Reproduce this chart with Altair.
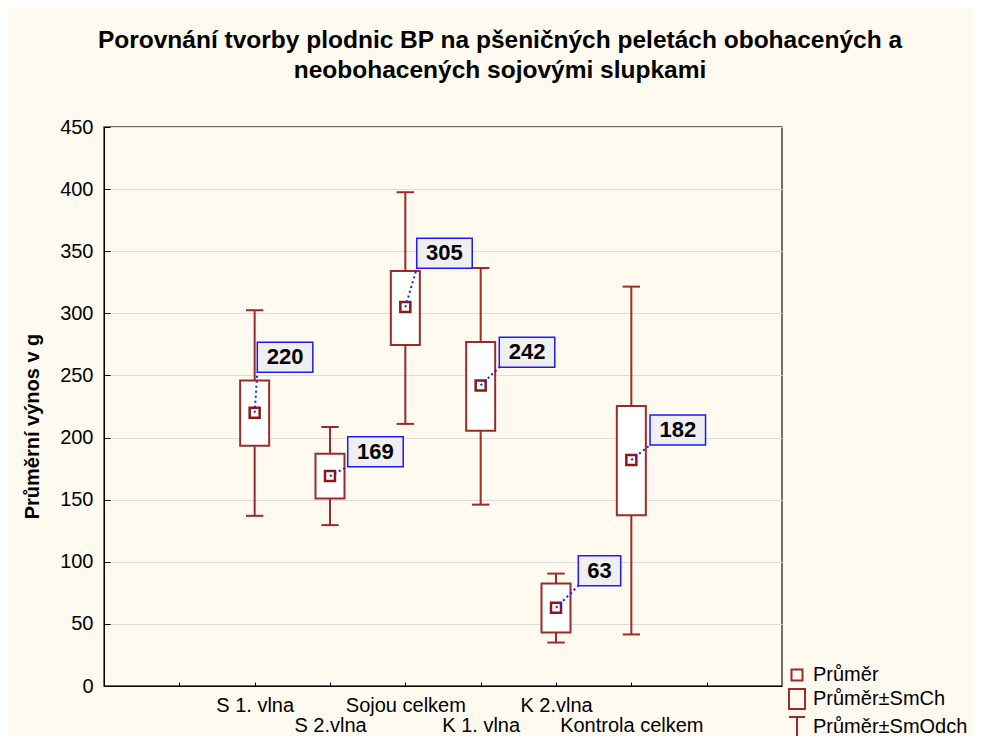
import json
import altair as alt
import pandas as pd

# ---- data ----
categories = ["S 1. vlna", "S 2.vlna", "Sojou celkem", "K 1. vlna", "K 2.vlna", "Kontrola celkem"]
means = [220, 169, 305, 242, 63, 182]
se_lo = [193.5, 151, 274.5, 205.5, 43, 137.5]     # Průměr - SmCh
se_hi = [246, 187, 334, 277, 82.5, 225.5]         # Průměr + SmCh
sd_lo = [137, 129.5, 211, 146, 35, 41.5]          # Průměr - SmOdch
sd_hi = [302.5, 208.5, 397.5, 336.5, 90.5, 321.5] # Průměr + SmOdch

# annotation anchors (bottom-left corner of each value box)
label_dx = [0.035, 0.235, 0.151, 0.247, 0.296, 0.248]   # in category units
label_base = [252.5, 176.5, 336.3, 256.6, 80.7, 194.0]  # in value units

legend_items = ["Průměr", "Průměr±SmCh", "Průměr±SmOdch"]

title_lines = [
    "Porovnání tvorby plodnic BP na pšeničných peletách obohacených a",
    "neobohacených sojovými slupkami",
]
y_title = "Průměrní výnos v g"

df = pd.DataFrame({
    "cat": categories,
    "pos": [i + 2 for i in range(len(categories))],
    "mean": means,
    "se_lo": se_lo, "se_hi": se_hi,
    "sd_lo": sd_lo, "sd_hi": sd_hi,
    "ldx": label_dx, "lbase": label_base,
})

W, H = 678, 559
RED = "#9c2a2a"
RED_D = "#8a1a1a"
BLUE = "#1a1aff"
FONT = "Liberation Sans"

xscale = alt.Scale(domain=[0, 9], nice=False, zero=False)
yscale = alt.Scale(domain=[0, 450], nice=False)

label_expr = ("datum.value >= 2 && datum.value <= 7 ? "
              + json.dumps(categories) + "[datum.value - 2] : ''")

xaxis = alt.Axis(
    values=[1, 2, 3, 4, 5, 6, 7, 8], title=None, grid=False,
    labelExpr=label_expr, labelFont=FONT, labelFontSize=20, labelColor="black",
    labelPadding={"condition": {"test": "datum.value % 2 == 1", "value": 33}, "value": 13},
    tickSize={"expr": "-4"}, tickColor="black", domainColor="black",
    labelOverlap=False, labelFlush=False,
)
yaxis = alt.Axis(
    values=list(range(0, 451, 50)), title=y_title, grid=True, gridColor="#dcdcdc",
    labelFont=FONT, labelFontSize=20, labelColor="black", labelPadding=17,
    tickSize={"expr": "-6"}, tickColor="black", domainColor="black",
    titleFont=FONT, titleFontSize=20, titleFontWeight="bold", titleColor="black",
    titlePadding=17, titleY=299,
)


def X(f):
    return alt.X(f, scale=xscale, axis=xaxis)


def Y(f):
    return alt.Y(f, scale=yscale, axis=yaxis)


base = alt.Chart(df).transform_calculate(
    cl="datum.pos - 0.115", cr="datum.pos + 0.115",
    bl="datum.pos - 0.1925", br="datum.pos + 0.1925",
    lx="datum.pos + datum.ldx",
    lw="length(toString(datum.mean)) * 0.174 + 0.215",
).transform_calculate(
    lx2="datum.lx + datum.lw",
    lxc="datum.lx + datum.lw / 2",
    ly2="datum.lbase + 24.15",
    lyc="datum.lbase + 12.07",
)

whisker = base.mark_rule(color=RED, strokeWidth=2).encode(
    x=X("pos:Q"), y=Y("sd_lo:Q"), y2="sd_hi:Q")
cap_hi = base.mark_rule(color=RED, strokeWidth=2).encode(
    x=X("cl:Q"), x2="cr:Q", y=Y("sd_hi:Q"))
cap_lo = base.mark_rule(color=RED, strokeWidth=2).encode(
    x=X("cl:Q"), x2="cr:Q", y=Y("sd_lo:Q"))
box = base.mark_rect(fill="white", stroke=RED, strokeWidth=2).encode(
    x=X("bl:Q"), x2="br:Q", y=Y("se_lo:Q"), y2="se_hi:Q")
mean_pt = base.mark_point(shape="square", filled=False, fill="white", stroke=RED_D,
                          strokeWidth=2.5, size=100, opacity=1).encode(
    x=X("pos:Q"), y=Y("mean:Q"))
leader = base.mark_rule(color=BLUE, strokeWidth=2, strokeDash=[2, 3]).encode(
    x=X("pos:Q"), x2="lx:Q", y=Y("mean:Q"), y2="lbase:Q")
lab_box = base.mark_rect(fill="#efefef", stroke=BLUE, strokeWidth=1.5).encode(
    x=X("lx:Q"), x2="lx2:Q", y=Y("lbase:Q"), y2="ly2:Q")
lab_txt = base.mark_text(font=FONT, fontSize=22, fontWeight="bold", color="black",
                         align="center", baseline="middle").encode(
    x=X("lxc:Q"), y=Y("lyc:Q"), text="mean:Q")

paths = [
    "M-0.5,-0.5H0.5V0.5H-0.5Z",
    "M-0.73,-0.9H0.73V0.9H-0.73Z",
    "M-0.73,-0.9H0.73M0,-0.9V0.9M-0.73,0.9H0.73",
]
legend_layer = alt.Chart(pd.DataFrame({"item": legend_items})).transform_filter(
    "false").mark_point(color=RED, filled=False, strokeWidth=2).encode(
    shape=alt.Shape("item:N", scale=alt.Scale(domain=legend_items, range=paths),
                    legend=alt.Legend(
                        title=None, orient="none", legendX=681, legendY=536,
                        symbolSize=484, symbolStrokeColor=RED, symbolStrokeWidth=2,
                        symbolFillColor="transparent", symbolOpacity=1,
                        labelFont=FONT, labelFontSize=20, labelColor="black",
                        labelOffset=4, rowPadding=0)))

chart = alt.layer(
    whisker, cap_hi, cap_lo, box, mean_pt, leader, lab_box, lab_txt, legend_layer
).properties(
    width=W, height=H,
    autosize="none",
    padding={"left": 96, "top": 119, "right": 192, "bottom": 50},
    background="#fffaf0",
    title=alt.TitleParams(text=title_lines, font=FONT, fontSize=24.5, fontWeight="bold",
                          color="black", anchor="middle", dx=57, offset=34,
                          lineHeight=30),
).configure_view(fill="white", stroke="#404040", strokeWidth=1.5)

chart.save("out.html", embed_options={"renderer": "svg", "actions": False})
